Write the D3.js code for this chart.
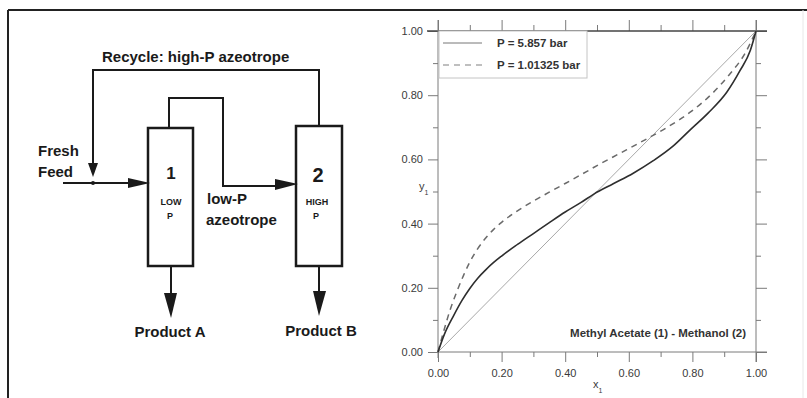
<!DOCTYPE html>
<html>
<head>
<meta charset="utf-8">
<script src="https://cdn.jsdelivr.net/npm/d3@7"></script>
<style>
  body { margin: 0; background: #fff; }
  text { font-family: "Liberation Sans", Arial, sans-serif; }
</style>
</head>
<body>
<div class="canvas"></div>
<script>
// data (methyl acetate - methanol)
var xMajor = [0, 0.2, 0.4, 0.6, 0.8, 1.0]
var xMinor = [0.1, 0.3, 0.5, 0.7, 0.9]
var yMajor = [0, 0.2, 0.4, 0.6, 0.8, 1.0]
var yMinor = [0.1, 0.3, 0.5, 0.7, 0.9]

// P = 5.857 bar (solid)
var highP_x = [0, 0.02, 0.05, 0.075, 0.1, 0.125, 0.15, 0.175, 0.2, 0.25, 0.3, 0.35, 0.4, 0.45, 0.49, 0.551, 0.614, 0.677, 0.74, 0.793, 0.85, 0.908, 0.95, 0.982, 1]
var highP_y = [0, 0.055, 0.115, 0.16, 0.198, 0.23, 0.256, 0.279, 0.299, 0.335, 0.369, 0.403, 0.436, 0.466, 0.492, 0.524, 0.557, 0.596, 0.642, 0.692, 0.745, 0.809, 0.877, 0.939, 1]

// P = 1.01325 bar (dashed)
var lowP_x = [0, 0.016, 0.037, 0.06, 0.08, 0.1, 0.125, 0.15, 0.175, 0.2, 0.25, 0.3, 0.35, 0.4, 0.467, 0.504, 0.578, 0.651, 0.724, 0.793, 0.861, 0.916, 0.966, 1]
var lowP_y = [0, 0.058, 0.128, 0.19, 0.238, 0.28, 0.322, 0.355, 0.382, 0.404, 0.44, 0.47, 0.498, 0.525, 0.562, 0.583, 0.622, 0.661, 0.702, 0.747, 0.804, 0.864, 0.931, 1]

var legendLabels = ['P = 5.857 bar', 'P = 1.01325 bar']
var chartNote = 'Methyl Acetate (1) - Methanol (2)'

var svg = d3.select(".canvas").append("svg").attr("width", 807).attr("height", 398)
svg.append('rect').attr('width', 807).attr('height', 398).attr('fill', '#fff')

// outer frame
svg.append('line').attr('x1', 8).attr('y1', 10).attr('x2', 807).attr('y2', 10)
    .attr('stroke', '#222').attr('stroke-width', 2)
svg.append('line').attr('x1', 8).attr('y1', 10).attr('x2', 8).attr('y2', 398)
    .attr('stroke', '#222').attr('stroke-width', 2)
svg.append('line').attr('x1', 803).attr('y1', 10).attr('x2', 803).attr('y2', 398)
    .attr('stroke', '#e8e8e8').attr('stroke-width', 1)

// ---------- process diagram ----------
var ink = '#1a1a1a'
function poly(pts, w) {
    svg.append('path')
        .attr('d', d3.line()(pts))
        .attr('fill', 'none')
        .attr('stroke', ink)
        .attr('stroke-width', w || 2)
}
function head(pts) {
    svg.append('path').attr('d', d3.line()(pts) + 'Z').attr('fill', ink)
}
function label(txt, x, y, size, anchor, weight) {
    svg.append('text').attr('x', x).attr('y', y)
        .attr('font-size', size).attr('font-weight', weight || 'bold')
        .attr('text-anchor', anchor || 'start').attr('fill', ink)
        .text(txt)
}

// columns
svg.append('rect').attr('x', 148).attr('y', 128).attr('width', 45).attr('height', 138)
    .attr('fill', 'none').attr('stroke', ink).attr('stroke-width', 2.5)
svg.append('rect').attr('x', 296).attr('y', 126).attr('width', 46).attr('height', 140)
    .attr('fill', 'none').attr('stroke', ink).attr('stroke-width', 2.5)

// recycle loop
poly([[319, 126], [319, 70], [93, 70], [93, 165]])
head([[88, 163], [98, 163], [93, 177]])

// fresh feed
poly([[63, 183], [132, 183]])
head([[128, 178], [128, 188], [150, 183]])
svg.append('circle').attr('cx', 93).attr('cy', 183).attr('r', 2).attr('fill', ink)

// low-P azeotrope overhead to column 2
poly([[169, 128], [169, 98], [223, 98], [223, 186], [278, 186]])
head([[275, 179], [275, 190], [298, 184]])

// bottoms
poly([[171, 266], [171, 296]])
head([[164, 293], [177, 293], [171, 318]])
poly([[319, 266], [319, 294]])
head([[313, 291], [326, 291], [319, 316]])

label('Recycle: high-P azeotrope', 102, 62, 15)
label('Fresh', 38, 156, 15)
label('Feed', 38, 177, 15)
label('1', 171, 179, 17, 'middle')
label('2', 318, 182, 20, 'middle')
label('LOW', 171, 205, 9, 'middle')
label('P', 170, 219, 9, 'middle')
label('HIGH', 317, 205, 9, 'middle')
label('P', 316, 219, 9, 'middle')
label('low-P', 207, 204, 15)
label('azeotrope', 206, 225, 15)
label('Product A', 170, 337, 15, 'middle')
label('Product B', 321, 336, 15, 'middle')

// ---------- x-y chart ----------
var x = d3.scaleLinear().domain([0, 1]).range([438, 756])
var y = d3.scaleLinear().domain([0, 1]).range([352, 31])
var axisCol = '#7a7a7a'
var fmt = d3.format('.2f')

function styleAxis(g) {
    g.select('.domain').remove()
    g.selectAll('line').attr('stroke', axisCol)
    g.selectAll('text').attr('fill', '#3a3a3a').attr('font-size', 11)
        .attr('font-family', '"Liberation Sans", Arial, sans-serif')
}

// bottom
svg.append('g').attr('transform', 'translate(0,' + y(0) + ')')
    .call(d3.axisBottom(x).tickValues(xMajor).tickSize(10).tickPadding(7).tickFormat(fmt)).call(styleAxis)
svg.append('g').attr('transform', 'translate(0,' + y(0) + ')')
    .call(d3.axisBottom(x).tickValues(xMinor).tickSize(5).tickFormat('')).call(styleAxis)
// top
svg.append('g').attr('transform', 'translate(0,' + y(1) + ')')
    .call(d3.axisTop(x).tickValues(xMajor).tickSize(11).tickFormat('')).call(styleAxis)
svg.append('g').attr('transform', 'translate(0,' + y(1) + ')')
    .call(d3.axisTop(x).tickValues(xMinor).tickSize(6).tickFormat('')).call(styleAxis)
// left
svg.append('g').attr('transform', 'translate(' + x(0) + ',0)')
    .call(d3.axisLeft(y).tickValues(yMajor).tickSize(10).tickPadding(5).tickFormat(fmt)).call(styleAxis)
svg.append('g').attr('transform', 'translate(' + x(0) + ',0)')
    .call(d3.axisLeft(y).tickValues(yMinor).tickSize(5).tickFormat('')).call(styleAxis)
// right
svg.append('g').attr('transform', 'translate(' + x(1) + ',0)')
    .call(d3.axisRight(y).tickValues(yMajor).tickSize(11).tickFormat('')).call(styleAxis)
svg.append('g').attr('transform', 'translate(' + x(1) + ',0)')
    .call(d3.axisRight(y).tickValues(yMinor).tickSize(5).tickFormat('')).call(styleAxis)

// axis lines, running a little past the corners
svg.append('line').attr('x1', x(0) - 11).attr('y1', y(1)).attr('x2', x(1) + 11).attr('y2', y(1))
    .attr('stroke', '#444').attr('stroke-width', 1.5)
svg.append('line').attr('x1', x(0)).attr('y1', y(0)).attr('x2', x(1) + 11).attr('y2', y(0))
    .attr('stroke', axisCol)
svg.append('line').attr('x1', x(0)).attr('y1', y(1) - 11).attr('x2', x(0)).attr('y2', y(0) + 6)
    .attr('stroke', axisCol)
svg.append('line').attr('x1', x(1)).attr('y1', y(1) - 11).attr('x2', x(1)).attr('y2', y(0) + 10)
    .attr('stroke', axisCol)

// axis titles
var xt = svg.append('text').attr('x', 593).attr('y', 388).attr('font-size', 11).attr('fill', '#3a3a3a')
xt.append('tspan').text('x')
xt.append('tspan').attr('font-size', 7).attr('dy', 5).text('1')
var yt = svg.append('text').attr('x', 419).attr('y', 190).attr('font-size', 11).attr('fill', '#3a3a3a')
yt.append('tspan').text('y')
yt.append('tspan').attr('font-size', 7).attr('dy', 5).text('1')

// diagonal
svg.append('line').attr('x1', x(0)).attr('y1', y(0)).attr('x2', x(1)).attr('y2', y(1))
    .attr('stroke', '#a8a8a8').attr('stroke-width', 1)

var line = d3.line().x(d => x(d[0])).y(d => y(d[1])).curve(d3.curveMonotoneX)

svg.append('path')
    .attr('d', line(d3.zip(lowP_x, lowP_y)))
    .attr('fill', 'none').attr('stroke', '#6a6a6a').attr('stroke-width', 1.5)
    .attr('stroke-dasharray', '6,5')

svg.append('path')
    .attr('d', line(d3.zip(highP_x, highP_y)))
    .attr('fill', 'none').attr('stroke', '#2e2e2e').attr('stroke-width', 1.6)

// legend
svg.append('rect').attr('x', 439).attr('y', 31).attr('width', 148).attr('height', 47)
    .attr('fill', '#fff').attr('stroke', '#c4c4c4').attr('stroke-width', 1)
svg.append('line').attr('x1', 443).attr('y1', 43).attr('x2', 482).attr('y2', 43)
    .attr('stroke', '#777').attr('stroke-width', 1)
svg.append('line').attr('x1', 443).attr('y1', 65).attr('x2', 482).attr('y2', 65)
    .attr('stroke', '#aaa').attr('stroke-width', 1.5).attr('stroke-dasharray', '6,5')
legendLabels.forEach(function (t, i) {
    svg.append('text').attr('x', 497).attr('y', 47 + i * 22)
        .attr('font-size', 11.5).attr('font-weight', 'bold').attr('fill', '#333').text(t)
})

svg.append('text').attr('x', 746).attr('y', 337).attr('text-anchor', 'end')
    .attr('font-size', 11.5).attr('font-weight', 'bold').attr('fill', '#333').text(chartNote)
</script>
</body>
</html>
